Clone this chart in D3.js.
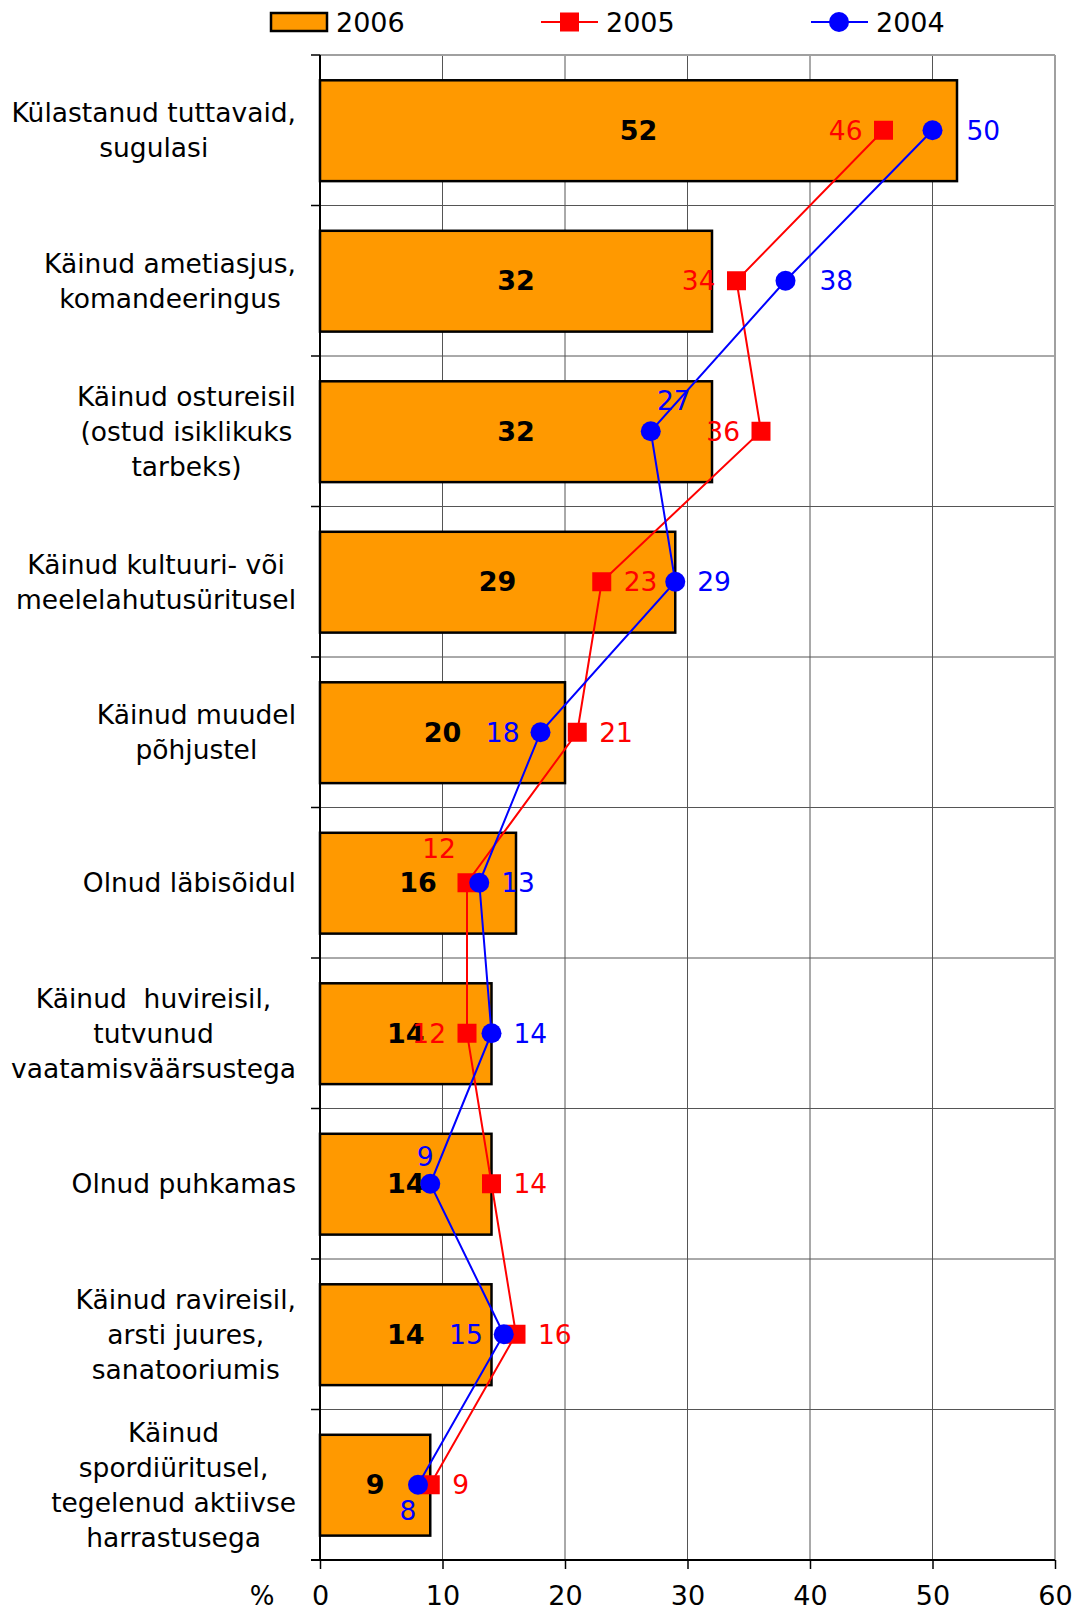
<!DOCTYPE html>
<html>
<head>
<meta charset="utf-8">
<script src="https://cdn.jsdelivr.net/npm/d3@7"></script>
<style>
  body { margin: 0; background: #fff; }
  text { font-family: "DejaVu Sans", Verdana, sans-serif; }
</style>
</head>
<body>
<script>
// categories, top to bottom
var categories = [
  ["Külastanud tuttavaid,", "sugulasi"],
  ["Käinud ametiasjus,", "komandeeringus"],
  ["Käinud ostureisil", "(ostud isiklikuks", "tarbeks)"],
  ["Käinud kultuuri- või", "meelelahutusüritusel"],
  ["Käinud muudel", "põhjustel"],
  ["Olnud läbisõidul"],
  ["Käinud  huvireisil,", "tutvunud", "vaatamisväärsustega"],
  ["Olnud puhkamas"],
  ["Käinud ravireisil,", "arsti juures,", "sanatooriumis"],
  ["Käinud", "spordiüritusel,", "tegelenud aktiivse", "harrastusega"]
];
var values2006 = [52, 32, 32, 29, 20, 16, 14, 14, 14, 9];
var values2005 = [46, 34, 36, 23, 21, 12, 12, 14, 16, 9];
var values2004 = [50, 38, 27, 29, 18, 13, 14, 9, 15, 8];
// where each point label sits next to its marker
var place2005 = ["l", "l", "l", "r", "r", "tl", "l", "r", "r", "r"];
var place2004 = ["rr", "rr", "tr", "r", "l", "r", "r", "t", "l", "b"];
var xTicks = [0, 10, 20, 30, 40, 50, 60];

var w = 1081, h = 1612;
var pLeft = 320, pRight = 1055, pTop = 55, pBottom = 1560;

var svg = d3.select("body").append("svg")
  .attr("width", w)
  .attr("height", h);

var x = d3.scaleLinear().domain([0, 60]).range([pLeft, pRight]);
var y = d3.scaleBand().domain(d3.range(categories.length)).range([pTop, pBottom]).padding(0);
var bw = y.bandwidth();

// grid
svg.append("g").selectAll("line")
  .data(xTicks.slice(1, -1))
  .enter().append("line")
  .attr("x1", d => x(d)).attr("x2", d => x(d))
  .attr("y1", pTop).attr("y2", pBottom)
  .attr("stroke", "#555").attr("stroke-width", 1);

svg.append("g").selectAll("line")
  .data(d3.range(1, categories.length))
  .enter().append("line")
  .attr("x1", pLeft).attr("x2", pRight)
  .attr("y1", d => y(d)).attr("y2", d => y(d))
  .attr("stroke", "#555").attr("stroke-width", 1);

// plot border top / right
svg.append("line").attr("x1", pLeft).attr("x2", pRight).attr("y1", pTop).attr("y2", pTop)
  .attr("stroke", "#a0a0a0").attr("stroke-width", 2);
svg.append("line").attr("x1", pRight).attr("x2", pRight).attr("y1", pTop).attr("y2", pBottom)
  .attr("stroke", "#a0a0a0").attr("stroke-width", 2);

// bars 2006
svg.append("g").selectAll("rect")
  .data(values2006)
  .enter().append("rect")
  .attr("x", x(0))
  .attr("y", (d, i) => y(i) + bw * 0.168)
  .attr("width", d => x(d) - x(0))
  .attr("height", bw * 0.67)
  .attr("fill", "#FF9900")
  .attr("stroke", "#000")
  .attr("stroke-width", 2.5);

svg.append("g").selectAll("text")
  .data(values2006)
  .enter().append("text")
  .attr("x", d => (x(0) + x(d)) / 2)
  .attr("y", (d, i) => y(i) + bw / 2)
  .attr("dy", "0.36em")
  .attr("text-anchor", "middle")
  .attr("font-size", 27)
  .attr("font-weight", "bold")
  .text(d => d);

// axes
var xAxis = d3.axisBottom(x).tickValues(xTicks).tickSize(9).tickPadding(17).tickFormat(d3.format("d"));
var gx = svg.append("g")
  .attr("transform", "translate(0," + pBottom + ")")
  .call(xAxis);
gx.select(".domain").attr("stroke", "#000").attr("stroke-width", 2).attr("d", "M" + (pLeft - 9) + ",0H" + pRight);
gx.selectAll(".tick line").attr("stroke", "#000").attr("stroke-width", 1.5);
gx.selectAll(".tick text")
  .attr("font-family", "'DejaVu Sans Condensed', 'DejaVu Sans', sans-serif")
  .attr("font-size", 27).attr("fill", "#000");

svg.append("line")
  .attr("x1", pLeft).attr("x2", pLeft).attr("y1", pTop).attr("y2", pBottom)
  .attr("stroke", "#000").attr("stroke-width", 2);
svg.append("g").selectAll("line")
  .data(d3.range(0, categories.length))
  .enter().append("line")
  .attr("x1", pLeft - 9).attr("x2", pLeft)
  .attr("y1", d => y(d)).attr("y2", d => y(d))
  .attr("stroke", "#000").attr("stroke-width", 1.5);

svg.append("text")
  .attr("x", 262).attr("y", 1596)
  .attr("dy", "0.36em")
  .attr("text-anchor", "middle")
  .attr("font-family", "'DejaVu Sans Condensed', 'DejaVu Sans', sans-serif")
  .attr("font-size", 26)
  .text("%");

// category labels: lines centred within a block whose right edge is fixed
var lineH = 35;
categories.forEach(function(lines, i) {
  var g = svg.append("g");
  var cy = y(i) + bw / 2 - (lines.length - 1) * lineH / 2;
  var ts = lines.map(function(s, j) {
    return g.append("text")
      .attr("y", cy + j * lineH)
      .attr("dy", "0.36em")
      .attr("font-size", 26.5)
      .attr("text-anchor", "middle")
      .style("white-space", "pre")
      .text(s);
  });
  var maxW = d3.max(ts, t => t.node().getComputedTextLength());
  ts.forEach(t => t.attr("x", 296 - maxW / 2));
});

// lines 2005 & 2004
var line = d3.line()
  .x(d => x(d[0]))
  .y(d => y(d[1]) + bw / 2);

var offs = {
  r: [22, 0, "start"], rr: [34, 0, "start"], l: [-21, 0, "end"],
  tl: [-28, -34, "middle"], tr: [23, -31, "middle"],
  t: [-5, -27, "middle"], b: [-10, 26, "middle"]
};

function series(vals, places, color, marker) {
  var pts = vals.map((v, i) => [v, i]);
  svg.append("path")
    .datum(pts)
    .attr("d", line)
    .attr("fill", "none")
    .attr("stroke", color)
    .attr("stroke-width", 2);
  var g = svg.append("g");
  if (marker == "square") {
    g.selectAll("rect").data(pts).enter().append("rect")
      .attr("x", d => x(d[0]) - 9.5)
      .attr("y", d => y(d[1]) + bw / 2 - 9.5)
      .attr("width", 19).attr("height", 19)
      .attr("fill", color);
  } else {
    g.selectAll("circle").data(pts).enter().append("circle")
      .attr("cx", d => x(d[0]))
      .attr("cy", d => y(d[1]) + bw / 2)
      .attr("r", 10)
      .attr("fill", color);
  }
  svg.append("g").selectAll("text").data(pts).enter().append("text")
    .attr("x", (d, i) => x(d[0]) + offs[places[i]][0])
    .attr("y", (d, i) => y(d[1]) + bw / 2 + offs[places[i]][1])
    .attr("dy", "0.36em")
    .attr("text-anchor", (d, i) => offs[places[i]][2])
    .attr("font-size", 26.5)
    .attr("fill", color)
    .text(d => d[0]);
}
series(values2005, place2005, "#FF0000", "square");
series(values2004, place2004, "#0000FF", "circle");

// legend
var lg = svg.append("g").attr("font-family", "'DejaVu Sans Condensed', 'DejaVu Sans', sans-serif");
lg.append("rect").attr("x", 271).attr("y", 13).attr("width", 56).attr("height", 18)
  .attr("fill", "#FF9900").attr("stroke", "#000").attr("stroke-width", 2.5);
lg.append("text").attr("x", 336).attr("y", 22).attr("dy", "0.36em").attr("font-size", 27).text("2006");

lg.append("line").attr("x1", 541).attr("x2", 598).attr("y1", 22).attr("y2", 22)
  .attr("stroke", "#FF0000").attr("stroke-width", 2);
lg.append("rect").attr("x", 560).attr("y", 12.5).attr("width", 19).attr("height", 19).attr("fill", "#FF0000");
lg.append("text").attr("x", 606).attr("y", 22).attr("dy", "0.36em").attr("font-size", 27).text("2005");

lg.append("line").attr("x1", 811).attr("x2", 868).attr("y1", 22).attr("y2", 22)
  .attr("stroke", "#0000FF").attr("stroke-width", 2);
lg.append("circle").attr("cx", 839).attr("cy", 22).attr("r", 10).attr("fill", "#0000FF");
lg.append("text").attr("x", 876).attr("y", 22).attr("dy", "0.36em").attr("font-size", 27).text("2004");
</script>
</body>
</html>
